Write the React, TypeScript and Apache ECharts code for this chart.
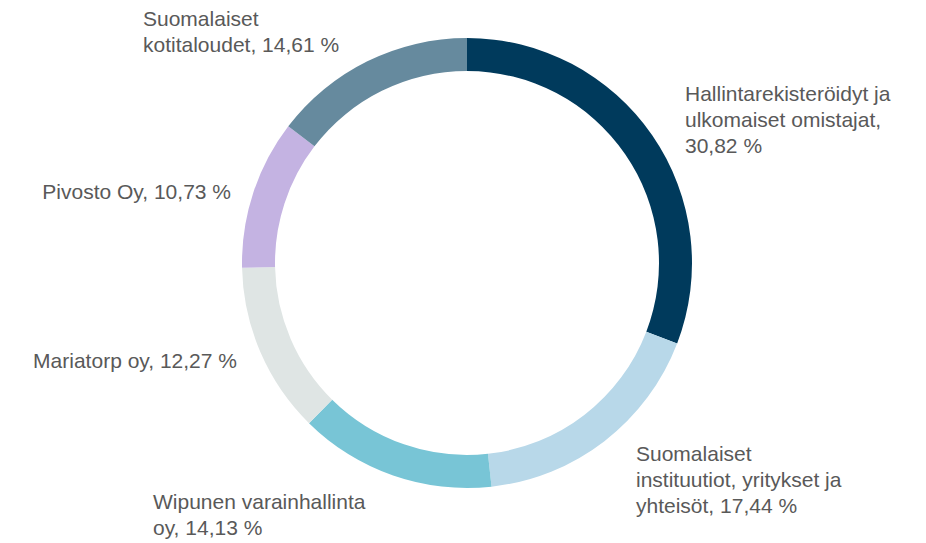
import React, { useEffect, useRef } from "react";
import * as echarts from "echarts";

const categories = [
  "Hallintarekisteröidyt ja\nulkomaiset omistajat,\n",
  "Suomalaiset\ninstituutiot, yritykset ja\nyhteisöt, ",
  "Wipunen varainhallinta\noy, ",
  "Mariatorp oy, ",
  "Pivosto Oy, ",
  "Suomalaiset\nkotitaloudet, ",
];
const values = [30.82, 17.44, 14.13, 12.27, 10.73, 14.61];
const colors = ["#003a5c", "#b8d8e9", "#78c5d6", "#dfe5e4", "#c4b3e2", "#668a9e"];

// label anchor layout (position/style only)
const labelPos = [
  { x: 685, y: 119, align: "left" },
  { x: 636, y: 479, align: "left" },
  { x: 153, y: 514, align: "left" },
  { x: 237, y: 360, align: "right" },
  { x: 231, y: 191, align: "right" },
  { x: 143, y: 31, align: "left" },
];

export default function App() {
  const ref = useRef<HTMLDivElement>(null);
  useEffect(() => {
    document.body.style.margin = "0";
    const chart = echarts.init(ref.current!, undefined, { renderer: "svg" });
    chart.setOption({
      animation: false,
      backgroundColor: "#ffffff",
      series: [
        {
          type: "pie",
          center: [467, 263],
          radius: [192, 225],
          startAngle: 90,
          clockwise: true,
          data: categories.map((c, i) => ({
            name: c,
            value: values[i],
            itemStyle: { color: colors[i] },
          })),
          label: {
            show: true,
            position: "outside",
            color: "#595959",
            fontFamily: "'Liberation Sans', Arial, sans-serif",
            fontSize: 21,
            lineHeight: 26,
            overflow: "none",
            alignTo: "none",
            bleedMargin: 0,
            formatter: (p: any) =>
              `${p.name}${p.value.toFixed(2).replace(".", ",")} %`,
          },
          labelLine: { show: false },
          labelLayout: (params: any) => {
            const lp = labelPos[params.dataIndex];
            return {
              x: lp.x,
              y: lp.y,
              align: lp.align,
              verticalAlign: "middle",
              hideOverlap: false,
            };
          },
          emphasis: { disabled: true },
        },
      ],
    });
    return () => chart.dispose();
  }, []);
  return <div ref={ref} style={{ width: 926, height: 543 }} />;
}
